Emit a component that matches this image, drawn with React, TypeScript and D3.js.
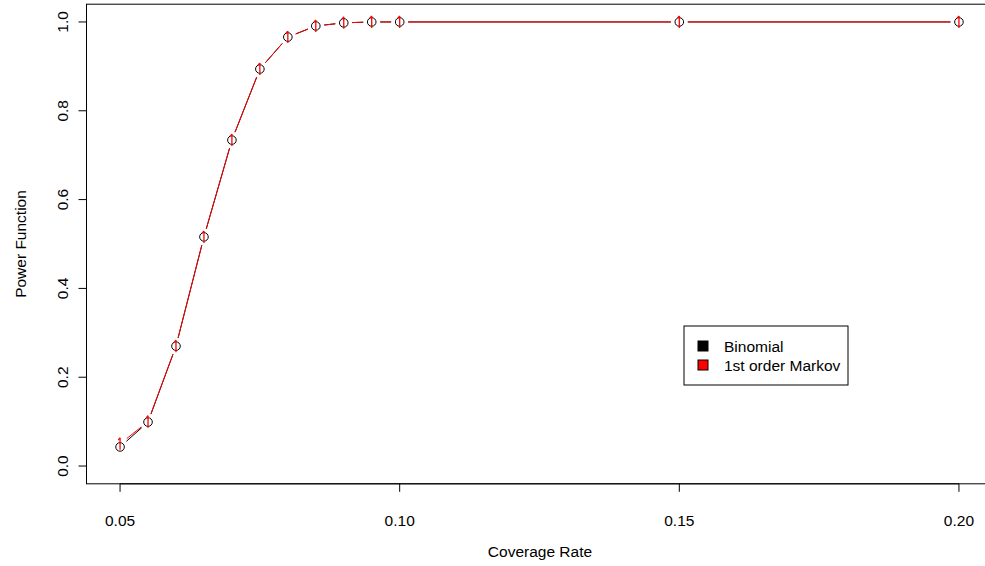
import React from "react";
import * as d3 from "d3";

const coverage = [0.05, 0.055, 0.06, 0.065, 0.07, 0.075, 0.08, 0.085, 0.09, 0.095, 0.1, 0.15, 0.2];
const binomial = [0.043, 0.099, 0.27, 0.516, 0.734, 0.894, 0.966, 0.991, 0.998, 1.0, 1.0, 1.0, 1.0];
const markov = [0.05, 0.1, 0.27, 0.516, 0.734, 0.894, 0.966, 0.991, 0.998, 1.0, 1.0, 1.0, 1.0];
const xTicks = [0.05, 0.1, 0.15, 0.2];
const yTicks = [0, 0.2, 0.4, 0.6, 0.8, 1.0];
const legendLabels = ["Binomial", "1st order Markov"];
const legendColors = ["#000000", "#ff0000"];

const W = 985;
const H = 566;
const FONT = "'Liberation Sans', Arial, Helvetica, sans-serif";
const FS = 15.5;

// R-style 4% axis extension
const xExt = (0.2 - 0.05) * 0.04;
const yExt = 1 * 0.04;
const x = d3.scaleLinear().domain([0.05 - xExt, 0.2 + xExt]).range([86.5, 992.5]);
const y = d3.scaleLinear().domain([-yExt, 1 + yExt]).range([483.8, 4.2]);

// type="b": segments between points, with a gap around each point
function gappedSegments(xs: number[], ys: number[], gap: number) {
  const segs: [number, number, number, number][] = [];
  for (let i = 0; i < xs.length - 1; i++) {
    const x0 = x(xs[i]), y0 = y(ys[i]), x1 = x(xs[i + 1]), y1 = y(ys[i + 1]);
    const dx = x1 - x0, dy = y1 - y0;
    const len = Math.hypot(dx, dy);
    if (len <= 2 * gap) continue;
    const ux = dx / len, uy = dy / len;
    segs.push([x0 + ux * gap, y0 + uy * gap, x1 - ux * gap, y1 - uy * gap]);
  }
  return segs;
}

export default function App() {
  const blackSegs = gappedSegments(coverage, binomial, 8.5);
  const redSegs = gappedSegments(coverage, markov, 8.5);
  const fmtX = d3.format(".2f");
  const fmtY = d3.format(".1f");
  const left = x.range()[0];
  const bottom = y.range()[0];

  return (
    <svg
      width={W}
      height={H}
      style={{ position: "absolute", left: 0, top: 0, background: "#fff" }}
      fontFamily={FONT}
    >
      <rect x={0} y={0} width={W} height={H} fill="#fff" />
      {/* plot box */}
      <rect
        x={left}
        y={y.range()[1]}
        width={x.range()[1] - left}
        height={bottom - y.range()[1]}
        fill="none"
        stroke="#000"
        strokeWidth={1}
      />
      {/* x axis */}
      <line x1={x(xTicks[0])} x2={x(xTicks[xTicks.length - 1])} y1={bottom} y2={bottom} stroke="#000" />
      {xTicks.map((t) => (
        <g key={"xt" + t}>
          <line x1={x(t)} x2={x(t)} y1={bottom} y2={bottom + 8} stroke="#000" />
          <text x={x(t)} y={526} fontSize={FS} textAnchor="middle">
            {fmtX(t)}
          </text>
        </g>
      ))}
      <text x={540} y={557} fontSize={FS} textAnchor="middle">
        Coverage Rate
      </text>
      {/* y axis */}
      <line x1={left} x2={left} y1={y(0)} y2={y(1)} stroke="#000" />
      {yTicks.map((t) => (
        <g key={"yt" + t}>
          <line x1={left - 8} x2={left} y1={y(t)} y2={y(t)} stroke="#000" />
          <text
            transform={`translate(68,${y(t)}) rotate(-90)`}
            fontSize={FS}
            textAnchor="middle"
          >
            {fmtY(t)}
          </text>
        </g>
      ))}
      <text
        transform={`translate(26,${(y.range()[0] + y.range()[1]) / 2}) rotate(-90)`}
        fontSize={FS}
        textAnchor="middle"
      >
        Power Function
      </text>

      {/* Binomial series */}
      {blackSegs.map((s, i) => (
        <line key={"bs" + i} x1={s[0]} y1={s[1]} x2={s[2]} y2={s[3]} stroke="#000" strokeWidth={1} />
      ))}
      {coverage.map((c, i) => (
        <circle key={"bc" + i} cx={x(c)} cy={y(binomial[i])} r={4.3} fill="none" stroke="#000" strokeWidth={1} />
      ))}

      {/* Markov series */}
      {redSegs.map((s, i) => (
        <line key={"rs" + i} x1={s[0]} y1={s[1]} x2={s[2]} y2={s[3]} stroke="#ff0000" strokeWidth={1} />
      ))}
      {coverage.map((c, i) => {
        const cx = x(c);
        const cy = y(markov[i]);
        return (
          <g key={"rm" + i} stroke="#ff0000" strokeWidth={1.3} fill="none">
            <line x1={cx} x2={cx} y1={cy - 6} y2={cy + 6} />
            <path d={`M${cx - 1.8},${cy - 3.8} L${cx},${cy - 6}`} />
          </g>
        );
      })}

      {/* legend */}
      <rect x={684} y={326} width={164} height={59} fill="#fff" stroke="#000" strokeWidth={1} />
      {legendLabels.map((lab, i) => (
        <g key={"lg" + i}>
          <rect
            x={698}
            y={341 + i * 19}
            width={10}
            height={10}
            fill={legendColors[i]}
            stroke="#000"
            strokeWidth={1}
          />
          <text x={724} y={352 + i * 19} fontSize={FS}>
            {lab}
          </text>
        </g>
      ))}
    </svg>
  );
}
